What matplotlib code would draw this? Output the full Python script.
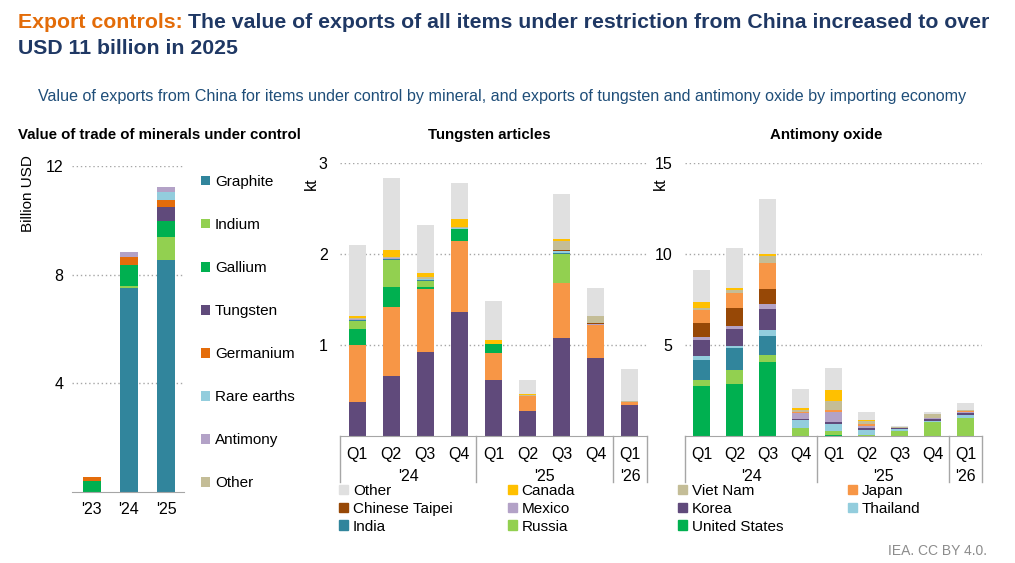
import matplotlib
matplotlib.use('Agg')
import matplotlib.pyplot as plt
from matplotlib.patches import Patch
import numpy as np

plt.rcParams['font.family'] = ['Liberation Sans', 'DejaVu Sans']

# ---- data: value of trade of minerals under control (billion USD)
years = ["'23", "'24", "'25"]
graphite = [0.0, 7.51, 8.55]
indium = [0.0, 0.08, 0.85]
gallium = [0.42, 0.77, 0.59]
tungsten = [0.0, 0.0, 0.49]
germanium = [0.12, 0.30, 0.28]
rare_earths = [0.0, 0.0, 0.29]
antimony = [0.0, 0.17, 0.17]
other_min = [0.0, 0.0, 0.02]

# ---- quarters
quarters = ['Q1', 'Q2', 'Q3', 'Q4', 'Q1', 'Q2', 'Q3', 'Q4', 'Q1']
year_groups = ["'24", "'25", "'26"]

# tungsten articles by importer (kt)
tw_korea = [0.37, 0.66, 0.92, 1.36, 0.61, 0.27, 1.08, 0.86, 0.34]
tw_japan = [0.63, 0.76, 0.69, 0.78, 0.30, 0.17, 0.60, 0.36, 0.03]
tw_us = [0.18, 0.22, 0.03, 0.14, 0.10, 0.0, 0.0, 0.0, 0.0]
tw_russia = [0.08, 0.29, 0.06, 0.0, 0.0, 0.0, 0.32, 0.0, 0.0]
tw_india = [0.01, 0.01, 0.01, 0.0, 0.0, 0.0, 0.01, 0.0, 0.0]
tw_thailand = [0.01, 0.01, 0.01, 0.01, 0.0, 0.0, 0.02, 0.0, 0.0]
tw_mexico = [0.01, 0.01, 0.01, 0.0, 0.0, 0.0, 0.0, 0.01, 0.0]
tw_taipei = [0.0, 0.0, 0.0, 0.0, 0.0, 0.0, 0.01, 0.01, 0.0]
tw_vietnam = [0.01, 0.01, 0.02, 0.01, 0.0, 0.01, 0.10, 0.08, 0.01]
tw_canada = [0.02, 0.07, 0.04, 0.08, 0.04, 0.01, 0.02, 0.0, 0.0]
tw_other = [0.78, 0.79, 0.53, 0.40, 0.43, 0.16, 0.50, 0.31, 0.36]

# antimony oxide by importer (kt)
sb_us = [2.77, 2.88, 4.07, 0.0, 0.08, 0.0, 0.0, 0.0, 0.0]
sb_russia = [0.33, 0.73, 0.40, 0.46, 0.18, 0.03, 0.27, 0.75, 1.01]
sb_india = [1.09, 1.21, 1.02, 0.0, 0.0, 0.02, 0.0, 0.0, 0.0]
sb_thailand = [0.19, 0.11, 0.32, 0.40, 0.42, 0.26, 0.11, 0.09, 0.13]
sb_korea = [0.88, 0.97, 1.15, 0.07, 0.07, 0.13, 0.04, 0.11, 0.11]
sb_mexico = [0.18, 0.14, 0.29, 0.33, 0.57, 0.13, 0.03, 0.06, 0.07]
sb_taipei = [0.77, 0.99, 0.85, 0.03, 0.0, 0.0, 0.0, 0.0, 0.0]
sb_japan = [0.73, 0.83, 1.41, 0.05, 0.13, 0.07, 0.0, 0.0, 0.05]
sb_vietnam = [0.07, 0.14, 0.40, 0.07, 0.45, 0.18, 0.04, 0.18, 0.08]
sb_canada = [0.35, 0.13, 0.09, 0.15, 0.61, 0.04, 0.0, 0.0, 0.0]
sb_other = [1.76, 2.22, 3.04, 1.04, 1.21, 0.48, 0.06, 0.15, 0.36]

# colours
C = {
    'Graphite': '#31859C', 'Indium': '#92D050', 'Gallium': '#00B050',
    'Tungsten': '#604A7B', 'Germanium': '#E46C0A', 'Rare earths': '#93CDDD',
    'Antimony': '#B3A2C7', 'Other': '#C4BD97',
}
K = {
    'Other': '#E0E0E0', 'Canada': '#FFC000', 'Viet Nam': '#C4BD97',
    'Japan': '#F79646', 'Chinese Taipei': '#974806', 'Mexico': '#B3A2C7',
    'Korea': '#604A7B', 'Thailand': '#93CDDD', 'India': '#31859C',
    'Russia': '#92D050', 'United States': '#00B050',
}

W, H = 1015, 563
fig = plt.figure(figsize=(W / 100, H / 100), dpi=100)


def px_axes(l, t, r, b):
    return fig.add_axes([l / W, 1 - b / H, (r - l) / W, (b - t) / H])


def style(ax, ymax, yt):
    ax.set_ylim(0, ymax)
    ax.set_yticks(yt)
    for s in ['top', 'right', 'left']:
        ax.spines[s].set_visible(False)
    ax.spines['bottom'].set_color('#A6A6A6')
    ax.yaxis.grid(True, linestyle=(0, (1, 2)), color='#A6A6A6', linewidth=1)
    ax.set_axisbelow(True)
    ax.tick_params(length=0, labelsize=11.5)


# ---- titles
t1 = fig.text(18 / W, 1 - 23 / H, 'Export controls:', color='#E36C09',
              fontsize=15.3, fontweight='bold', va='center')
fig.canvas.draw()
bb = t1.get_window_extent()
fig.text((bb.x1 + 5) / W, 1 - 23 / H,
         'The value of exports of all items under restriction from China increased to over',
         color='#1F3864', fontsize=15.3, fontweight='bold', va='center')
fig.text(18 / W, 1 - 49 / H, 'USD 11 billion in 2025', color='#1F3864',
         fontsize=15.3, fontweight='bold', va='center')
fig.text(502 / W, 1 - 97 / H,
         'Value of exports from China for items under control by mineral, and exports of tungsten and antimony oxide by importing economy',
         color='#1F4E79', fontsize=11.6, ha='center', va='center')
fig.text(18 / W, 1 - 135 / H, 'Value of trade of minerals under control',
         fontsize=10.8, fontweight='bold', va='center')
fig.text(489 / W, 1 - 135 / H, 'Tungsten articles', fontsize=10.8,
         fontweight='bold', va='center', ha='center')
fig.text(826 / W, 1 - 135 / H, 'Antimony oxide', fontsize=10.8,
         fontweight='bold', va='center', ha='center')
fig.text(987 / W, 1 - 551 / H, 'IEA. CC BY 4.0.', color='#8C8C8C',
         fontsize=10, ha='right', va='center')

# ---- left panel
ax1 = px_axes(72, 166, 184, 492)
style(ax1, 12, [4, 8, 12])
x = np.arange(len(years))
left_series = [('Graphite', graphite), ('Indium', indium), ('Gallium', gallium),
               ('Tungsten', tungsten), ('Germanium', germanium),
               ('Rare earths', rare_earths), ('Antimony', antimony),
               ('Other', other_min)]
bottom = np.zeros(len(years))
for name, vals in left_series:
    ax1.bar(x, vals, 0.49, bottom=bottom, color=C[name], label=name)
    bottom += np.array(vals)
ax1.set_xlim(-0.53, 2.48)
ax1.set_xticks(x, years)
ax1.tick_params(axis='y', pad=6)
ax1.tick_params(axis='x', pad=7)
ax1.text(-0.39, 1.034, 'Billion USD', rotation=90, ha='center', va='top',
         fontsize=11, transform=ax1.transAxes)
h, l = ax1.get_legend_handles_labels()
ax1.legend(h, l, loc='upper left', bbox_to_anchor=(201 / W, 1 - 175 / H),
           bbox_transform=fig.transFigure, frameon=False, fontsize=11,
           handlelength=0.6, handleheight=0.6, handletextpad=0.3,
           labelspacing=1.9, borderpad=0, borderaxespad=0)

# ---- quarter panels
xq = np.arange(len(quarters))


def quarter_panel(ax, series, ymax, yt, klabel_x):
    style(ax, ymax, yt)
    bottom = np.zeros(len(quarters))
    for name, vals in series:
        ax.bar(xq, vals, 0.5, bottom=bottom, color=K[name])
        bottom += np.array(vals)
    ax.set_xlim(-0.5, 8.5)
    ax.set_xticks(xq, quarters)
    ax.tick_params(axis='x', pad=8)
    ax.tick_params(axis='y', pad=9)
    tr = ax.get_xaxis_transform()
    for xs in [-0.5, 3.5, 7.5, 8.5]:
        ax.plot([xs, xs], [0, -0.168], color='#A6A6A6', lw=1,
                transform=tr, clip_on=False)
    for xc, lab in zip([1.5, 5.5, 8.0], year_groups):
        ax.text(xc, -0.15, lab, transform=tr, ha='center', va='center',
                fontsize=11.5)
    ax.text(klabel_x, 0.926, 'kt', rotation=90, ha='center', va='center',
            fontsize=11.5, transform=ax.transAxes)


ax2 = px_axes(340, 163, 647, 436)
quarter_panel(ax2, [('Korea', tw_korea), ('Japan', tw_japan),
                    ('United States', tw_us), ('Russia', tw_russia),
                    ('India', tw_india), ('Thailand', tw_thailand),
                    ('Mexico', tw_mexico), ('Chinese Taipei', tw_taipei),
                    ('Viet Nam', tw_vietnam), ('Canada', tw_canada),
                    ('Other', tw_other)], 3, [1, 2, 3], -0.094)

ax3 = px_axes(685, 163, 982, 436)
quarter_panel(ax3, [('United States', sb_us), ('Russia', sb_russia),
                    ('India', sb_india), ('Thailand', sb_thailand),
                    ('Korea', sb_korea), ('Mexico', sb_mexico),
                    ('Chinese Taipei', sb_taipei), ('Japan', sb_japan),
                    ('Viet Nam', sb_vietnam), ('Canada', sb_canada),
                    ('Other', sb_other)], 15, [5, 10, 15], -0.084)

# ---- shared legend, four columns
cols = [(339, ['Other', 'Chinese Taipei', 'India']),
        (508, ['Canada', 'Mexico', 'Russia']),
        (678, ['Viet Nam', 'Korea', 'United States']),
        (848, ['Japan', 'Thailand'])]
for cx, names in cols:
    fig.legend([Patch(color=K[n]) for n in names], names, loc='upper left',
               bbox_to_anchor=(cx / W, 1 - 484 / H), frameon=False,
               fontsize=11, handlelength=0.6, handleheight=0.6,
               handletextpad=0.3, labelspacing=0.25, borderpad=0,
               borderaxespad=0)

fig.savefig('out.png', dpi=100)
